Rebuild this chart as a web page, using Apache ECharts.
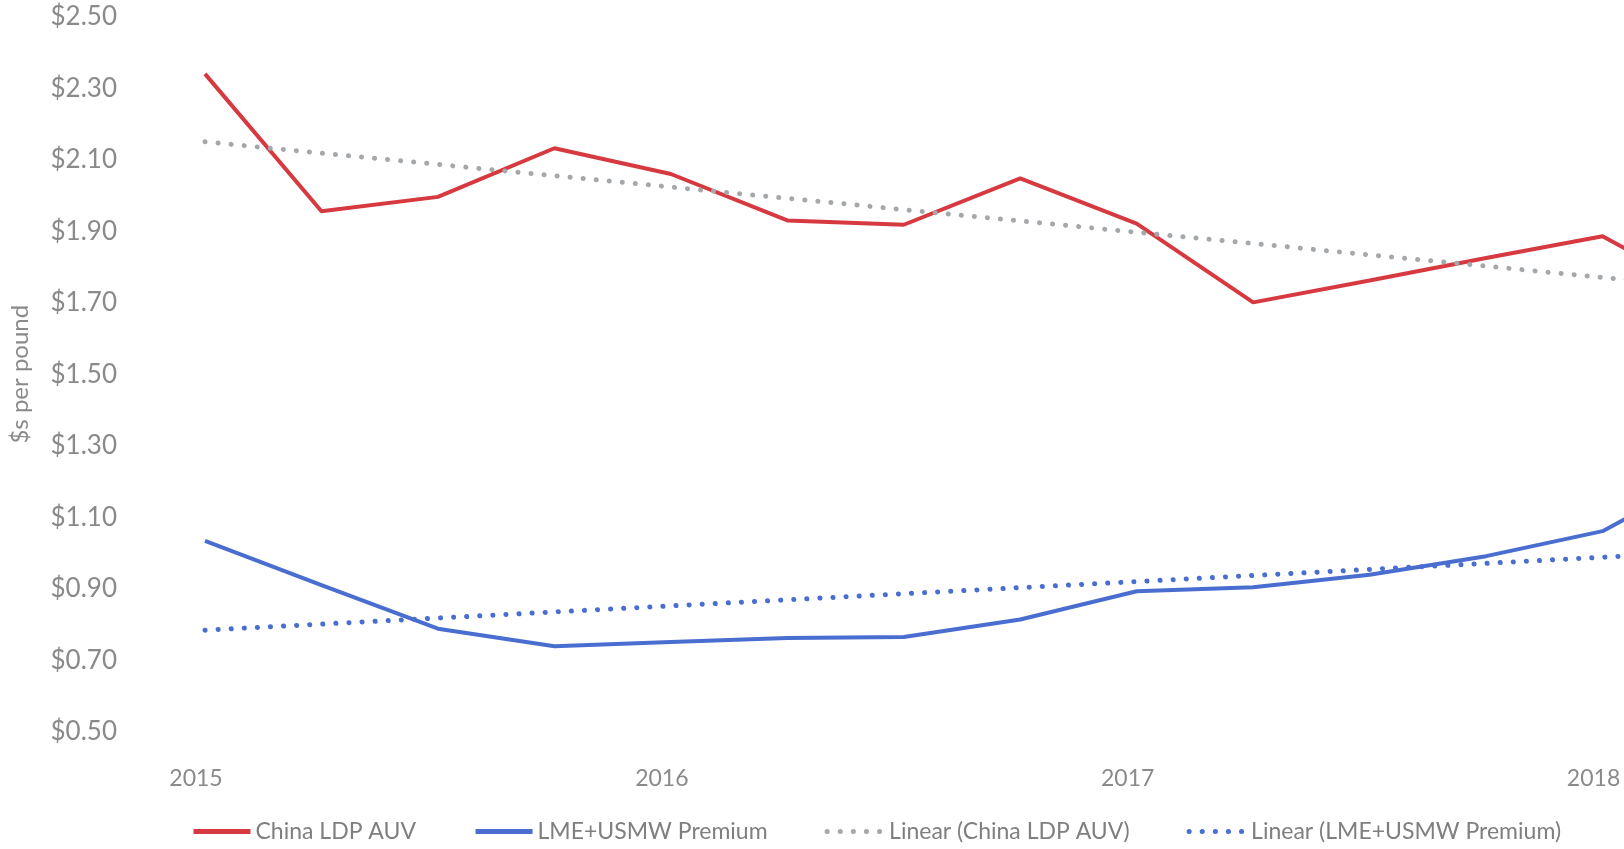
<!DOCTYPE html>
<html>
<head>
<meta charset="utf-8">
<script src="https://cdn.jsdelivr.net/npm/echarts@6/dist/echarts.min.js"></script>
<style>
  html, body { margin: 0; padding: 0; background: #ffffff; overflow: hidden; }
  body { width: 1624px; height: 849px; }
  #chart { width: 1719px; height: 849px; }
</style>
</head>
<body>
<div id="chart"></div>
<script>
// Quarterly categories (the chart is cropped on the right just after 2018 Q1)
const categories = ['2015 Q1','2015 Q2','2015 Q3','2015 Q4',
                    '2016 Q1','2016 Q2','2016 Q3','2016 Q4',
                    '2017 Q1','2017 Q2','2017 Q3','2017 Q4',
                    '2018 Q1','2018 Q2'];

const chinaLdpAuv = [2.34, 1.956, 1.996, 2.132, 2.06, 1.93, 1.918, 2.048, 1.921, 1.701, 1.762, 1.825, 1.886, 1.709];
const lmeUsmwPremium = [1.034, 0.91, 0.788, 0.739, 0.751, 0.762, 0.765, 0.814, 0.893, 0.904, 0.939, 0.991, 1.061, 1.237];

// Linear trend lines: start and end values
const trendChinaStart = 2.150, trendChinaEnd = 1.739;
const trendLmeStart = 0.784, trendLmeEnd = 1.005;

const yTickLabels = [0.5, 0.7, 0.9, 1.1, 1.3, 1.5, 1.7, 1.9, 2.1, 2.3, 2.5];

const seriesNames = ['China LDP AUV', 'LME+USMW Premium', 'Linear (China LDP AUV)', 'Linear (LME+USMW Premium)'];

function endpoints(a, b) {
  const arr = categories.map(() => null);
  arr[0] = a;
  arr[arr.length - 1] = b;
  return arr;
}

const FONT = 'Lato';
const chart = echarts.init(document.getElementById('chart'), null, { renderer: 'canvas' });

chart.setOption({
  animation: false,
  backgroundColor: '#ffffff',
  grid: { left: 204, top: 16.7, height: 715, right: 0, containLabel: false },
  xAxis: {
    type: 'category',
    data: categories,
    boundaryGap: false,
    axisLine: { show: false },
    axisTick: { show: false },
    splitLine: { show: false },
    axisLabel: {
      interval: 3,
      formatter: v => v.slice(0, 4),
      color: '#8a8a8a',
      fontFamily: FONT,
      fontSize: 23,
      margin: 35,
      padding: [0, 18, 0, 0]
    }
  },
  yAxis: {
    type: 'value',
    min: 0.5,
    max: 2.5,
    name: '$s per pound',
    nameLocation: 'middle',
    nameRotate: 90,
    nameGap: 173,
    nameTextStyle: { color: '#8a8a8a', fontFamily: FONT, fontSize: 24 },
    axisLine: { show: false },
    axisTick: { show: false },
    splitLine: { show: false },
    axisLabel: {
      customValues: yTickLabels,
      formatter: v => '$' + Number(v).toFixed(2),
      color: '#8a8a8a',
      fontFamily: FONT,
      fontSize: 26,
      margin: 88
    }
  },
  legend: {
    left: 186,
    top: 815,
    itemWidth: 57,
    itemHeight: 14,
    itemGap: 57,
    itemStyle: { opacity: 0 },
    lineStyle: { width: 5 },
    textStyle: { color: '#7f7f7f', fontFamily: FONT, fontSize: 23 },
    data: seriesNames
  },
  series: [
    {
      name: seriesNames[0], type: 'line', data: chinaLdpAuv,
      symbol: 'none', color: '#D63A40',
      lineStyle: { color: '#D63A40', width: 4 }
    },
    {
      name: seriesNames[1], type: 'line', data: lmeUsmwPremium,
      symbol: 'none', color: '#4A6ED0',
      lineStyle: { color: '#4A6ED0', width: 4 }
    },
    {
      name: seriesNames[2], type: 'line', data: endpoints(trendChinaStart, trendChinaEnd),
      connectNulls: true, symbol: 'none', color: '#A5A8AB',
      lineStyle: { color: '#A5A8AB', width: 5, type: [0.1, 13], cap: 'round' }
    },
    {
      name: seriesNames[3], type: 'line', data: endpoints(trendLmeStart, trendLmeEnd),
      connectNulls: true, symbol: 'none', color: '#4A6ED0',
      lineStyle: { color: '#4A6ED0', width: 5, type: [0.1, 13], cap: 'round' }
    }
  ]
});
</script>
</body>
</html>
